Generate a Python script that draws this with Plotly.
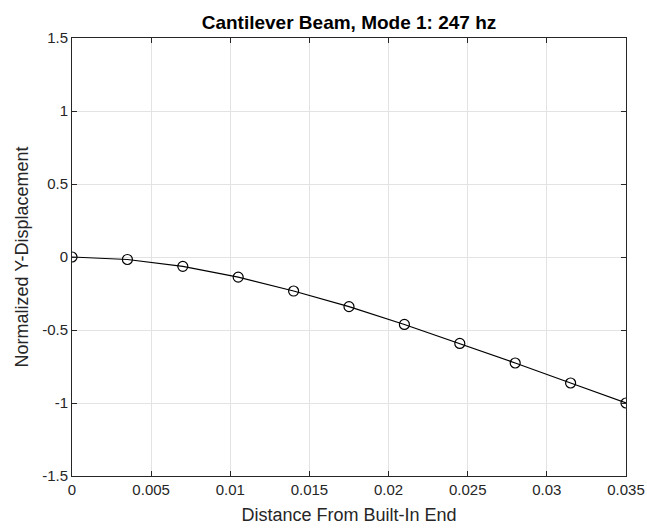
import plotly.graph_objects as go

distance = [0, 0.0035, 0.007, 0.0105, 0.014, 0.0175, 0.021, 0.0245, 0.028, 0.0315, 0.035]
displacement = [0, -0.017, -0.064, -0.138, -0.233, -0.34, -0.462, -0.592, -0.726, -0.863, -1.0]

x_ticks = [0, 0.005, 0.01, 0.015, 0.02, 0.025, 0.03, 0.035]
x_ticktext = ["0", "0.005", "0.01", "0.015", "0.02", "0.025", "0.03", "0.035"]
y_ticks = [-1.5, -1, -0.5, 0, 0.5, 1, 1.5]
y_ticktext = ["-1.5", "-1", "-0.5", "0", "0.5", "1", "1.5"]

font_family = "Liberation Sans, Arial, sans-serif"
axis_color = "#262626"
grid_color = "#e3e3e3"

fig = go.Figure()
fig.add_trace(go.Scatter(
    x=distance, y=displacement,
    mode="lines+markers",
    line=dict(color="black", width=1.2),
    marker=dict(symbol="circle-open", size=10, color="black", line=dict(width=1.2, color="black")),
    showlegend=False,
))

fig.update_layout(
    width=647, height=530,
    margin=dict(l=72, r=21, t=38, b=54),
    paper_bgcolor="white", plot_bgcolor="white",
    font=dict(family=font_family, size=15, color=axis_color),
    title=dict(text="<b>Cantilever Beam, Mode 1: 247 hz</b>", x=0.5, xref="paper",
               y=1 - 22 / 530, yref="container", yanchor="middle",
               font=dict(size=19, color="black", family=font_family)),
)
fig.update_xaxes(
    range=[0, 0.035], tickvals=x_ticks, ticktext=x_ticktext,
    showgrid=True, gridcolor=grid_color, gridwidth=1,
    showline=True, linecolor=axis_color, linewidth=1, mirror="ticks",
    ticks="inside", ticklen=5, tickcolor=axis_color, zeroline=False,
    automargin=False,
    title=dict(text="Distance From Built-In End", standoff=11, font=dict(size=18, color=axis_color)),
    tickfont=dict(size=15, color=axis_color),
)
fig.update_yaxes(
    range=[-1.5, 1.5], tickvals=y_ticks, ticktext=y_ticktext,
    showgrid=True, gridcolor=grid_color, gridwidth=1,
    showline=True, linecolor=axis_color, linewidth=1, mirror="ticks",
    ticks="inside", ticklen=5, tickcolor=axis_color, zeroline=False,
    title=dict(text="Normalized Y-Displacement", standoff=8, font=dict(size=18, color=axis_color)),
    tickfont=dict(size=15, color=axis_color),
)

fig.write_html("out.html")
